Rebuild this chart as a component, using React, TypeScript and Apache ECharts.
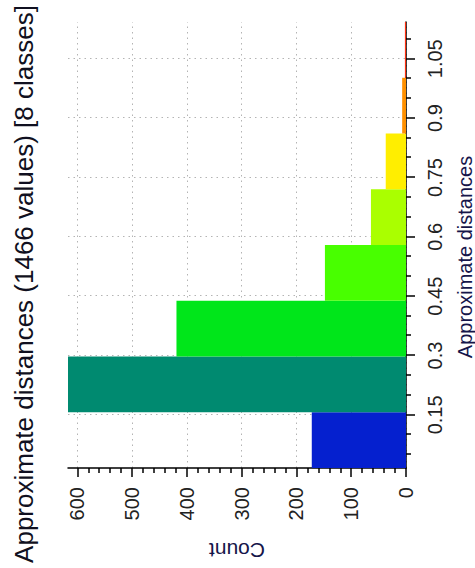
import React, { useEffect, useRef } from "react";
import * as echarts from "echarts";

// Class boundaries of the histogram (8 equal-width classes)
const classEdges = [0.0157, 0.1566, 0.2975, 0.4384, 0.5793, 0.7202, 0.8611, 1.002, 1.1429];
// Number of values falling in each class
const classCounts = [172, 617, 419, 148, 64, 37, 7, 2];
// Fill colour of each class
const classColors = ["#0520cf", "#008a70", "#00e61a", "#48ff00", "#aaff00", "#ffee00", "#ff9000", "#ff3010"];

// Tick labels of the distance axis and of the count axis
const distanceTicks = ["0.15", "0.3", "0.45", "0.6", "0.75", "0.9", "1.05"];
const distanceMinorTicks = [0.05, 0.1, 0.2, 0.25, 0.35, 0.4, 0.5, 0.55, 0.65, 0.7, 0.8, 0.85, 0.95, 1.0, 1.1];
const countTicks = [0, 100, 200, 300, 400, 500, 600];
const countMinorTicks = [
  20, 40, 60, 80, 120, 140, 160, 180, 220, 240, 260, 280, 320, 340, 360, 380,
  420, 440, 460, 480, 520, 540, 560, 580,
];

const FONT = "'Liberation Sans', Arial, sans-serif";
const CHART_W = 568;
const CHART_H = 475;

export default function App() {
  const ref = useRef<HTMLDivElement>(null);

  useEffect(() => {
    if (!ref.current) return;
    const chart = echarts.init(ref.current, null, { renderer: "svg", width: CHART_W, height: CHART_H });

    const total = classCounts.reduce((a, b) => a + b, 0);
    const maxCount = Math.max(...classCounts);
    const distanceValues = distanceTicks.map(Number);

    const histData = classCounts.map((c, i) => [classEdges[i], classEdges[i + 1], c]);

    const gridLine = { show: true, lineStyle: { color: "#b4b4b4", type: [1.5, 4], width: 1 } };
    const axisLine = { show: true, onZero: false, lineStyle: { color: "#000", width: 1.5 } };

    chart.setOption({
      animation: false,
      backgroundColor: "#fff",
      title: {
        text: `Approximate distances (${total} values) [${classCounts.length} classes]`,
        left: "center",
        top: 6,
        textStyle: { fontFamily: FONT, fontSize: 26, fontWeight: "normal", color: "#101020" },
      },
      grid: { left: 100, right: 22, top: 68, bottom: 69, containLabel: false, outerBoundsMode: "none" },
      xAxis: [
        {
          type: "value",
          position: "bottom",
          min: classEdges[0],
          max: classEdges[classEdges.length - 1],
          name: "Approximate distances",
          nameLocation: "middle",
          nameGap: 51,
          nameTextStyle: { fontFamily: FONT, fontSize: 20, lineHeight: 16, color: "#15154a", padding: [0, 24, 0, 0] },
          axisLine,
          axisTick: { show: true, inside: false, length: 9, customValues: distanceValues, lineStyle: { color: "#000", width: 1.5 } },
          axisLabel: {
            show: true,
            margin: 19,
            customValues: distanceValues,
            formatter: (v: number) => distanceTicks[distanceValues.findIndex((d) => Math.abs(d - v) < 1e-6)] ?? "",
            fontFamily: FONT,
            fontSize: 20,
            color: "#222",
          },
          splitLine: gridLine,
        },
        {
          type: "value",
          position: "bottom",
          min: classEdges[0],
          max: classEdges[classEdges.length - 1],
          axisLine: { show: false },
          axisTick: { show: true, inside: false, length: 5, customValues: distanceMinorTicks, lineStyle: { color: "#000", width: 1.5 } },
          axisLabel: { show: false },
          splitLine: { show: false },
        },
      ],
      yAxis: [
        {
          type: "value",
          position: "left",
          min: 0,
          max: maxCount,
          name: "Count",
          nameLocation: "middle",
          nameGap: 72,
          nameRotate: 90,
          nameTextStyle: { fontFamily: FONT, fontSize: 21, color: "#15154a" },
          axisLine,
          axisTick: { show: true, inside: false, length: 9, customValues: countTicks, lineStyle: { color: "#000", width: 1.5 } },
          axisLabel: {
            show: true,
            margin: 19,
            customValues: countTicks,
            fontFamily: FONT,
            fontSize: 20,
            color: "#222",
          },
          splitLine: gridLine,
        },
        {
          type: "value",
          position: "left",
          min: 0,
          max: maxCount,
          axisLine: { show: false },
          axisTick: { show: true, inside: false, length: 5, customValues: countMinorTicks, lineStyle: { color: "#000", width: 1.5 } },
          axisLabel: { show: false },
          splitLine: { show: false },
        },
      ],
      series: [
        {
          type: "custom",
          xAxisIndex: 0,
          yAxisIndex: 0,
          encode: { x: [0, 1], y: 2 },
          data: histData,
          renderItem: (params: any, api: any) => {
            const start = api.value(0);
            const end = api.value(1);
            const count = api.value(2);
            const topLeft = api.coord([start, count]);
            const bottomRight = api.coord([end, 0]);
            return {
              type: "rect",
              shape: {
                x: topLeft[0],
                y: topLeft[1],
                width: bottomRight[0] - topLeft[0],
                height: bottomRight[1] - topLeft[1],
              },
              style: { fill: classColors[params.dataIndex] },
            };
          },
          z: 2,
        },
      ],
    });

    return () => chart.dispose();
  }, []);

  return (
    <div
      style={{
        position: "fixed",
        left: 0,
        top: 0,
        width: 475,
        height: 568,
        overflow: "hidden",
        background: "#fff",
      }}
    >
      <div
        ref={ref}
        style={{
          position: "absolute",
          left: 0,
          top: 0,
          width: CHART_W,
          height: CHART_H,
          transformOrigin: "0 0",
          transform: `translate(0px, ${CHART_W}px) rotate(-90deg)`,
        }}
      />
    </div>
  );
}
